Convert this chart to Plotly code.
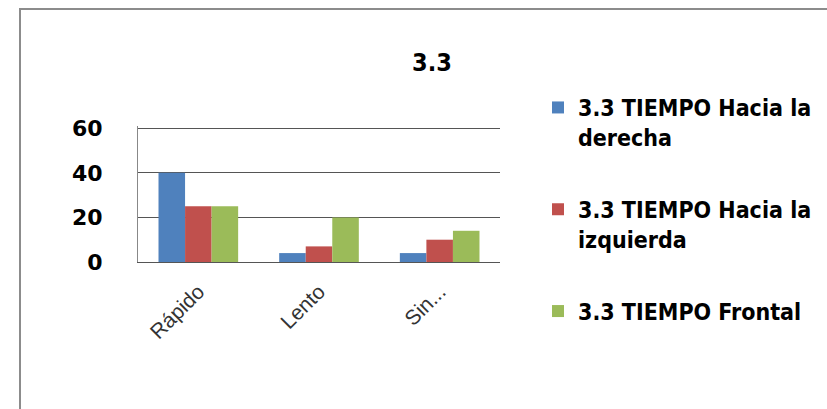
import plotly.graph_objects as go

# Categories and series
categorias = ["Rápido", "Lento", "Sin..."]
series = [
    "3.3 TIEMPO Hacia la<br>derecha",
    "3.3 TIEMPO Hacia la<br>izquierda",
    "3.3 TIEMPO Frontal",
]
derecha = [40, 4, 4]
izquierda = [25, 7, 10]
frontal = [25, 20, 14]
colores = ["#4F81BD", "#C0504D", "#9BBB59"]
y_ticks = [0, 20, 40, 60]

fig = go.Figure()
for i, (nombre, valores) in enumerate(zip(series, [derecha, izquierda, frontal])):
    fig.add_trace(go.Bar(
        x=categorias, y=valores, name=nombre,
        marker=dict(color=colores[i], line=dict(width=0)),
        legendgroup=f"g{i}",
    ))

W, H = 827, 409
L, R, T, B = 138, 327, 126, 147
pw, ph = W - L - R, H - T - B

def px_x(p):
    return (p - L) / pw

def px_y(p):
    return (H - B - p) / ph

fig.update_layout(
    width=W, height=H,
    margin=dict(l=L, r=R, t=T, b=B, pad=0, autoexpand=False),
    paper_bgcolor="white", plot_bgcolor="white",
    barmode="group", bargap=0.34, bargroupgap=0,
    title=dict(text="<b>3.3</b>", x=432 / W, xanchor="center",
               y=1 - 62 / H, yanchor="middle",
               font=dict(family="DejaVu Sans Condensed", size=25, color="black")),
    legend=dict(
        x=px_x(538), xanchor="left", y=px_y(86), yanchor="top",
        font=dict(family="DejaVu Sans Condensed", size=23, color="black", weight="bold"),
        tracegroupgap=39, valign="top", bgcolor="rgba(0,0,0,0)",
        maxheight=400,
    ),
    showlegend=True,
    xaxis=dict(
        tickangle=-45, showgrid=False, showline=True, linecolor="#555555", linewidth=1,
        ticks="", ticklabelstandoff=8,
        tickfont=dict(family="Liberation Sans", size=21, color="#333333"),
    ),
    yaxis=dict(
        range=[0, 61], tickvals=y_ticks, showgrid=True, gridcolor="#555555", gridwidth=1,
        showline=True, linecolor="#888888", linewidth=1, zeroline=False, ticks="",
        ticklabelstandoff=30,
        tickfont=dict(family="DejaVu Sans", size=22, color="black", weight="bold"),
    ),
    shapes=[dict(
        type="rect", xref="paper", yref="paper",
        x0=px_x(20), x1=px_x(W + 20), y0=px_y(H + 20), y1=px_y(9),
        line=dict(color="#8c8c8c", width=2), fillcolor="rgba(0,0,0,0)", layer="below",
    )],
)

fig.write_html("out.html")
